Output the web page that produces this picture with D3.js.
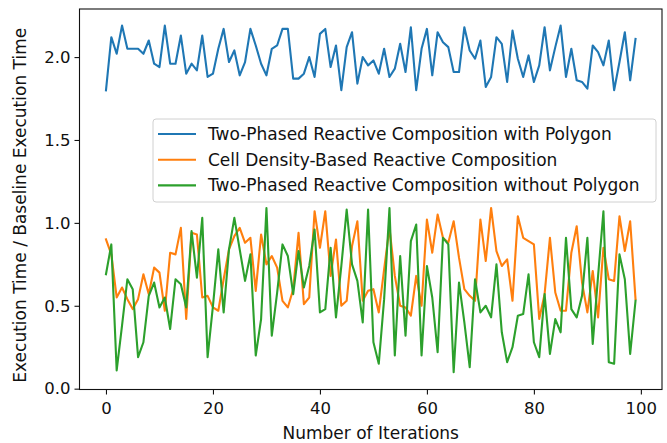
<!DOCTYPE html>
<html>
<head>
<meta charset="utf-8">
<script src="https://cdn.jsdelivr.net/npm/d3@7/dist/d3.min.js"></script>
<style>
  html, body { margin: 0; padding: 0; background: #fff; }
  svg { display: block; }
  text { font-family: "DejaVu Sans", sans-serif; fill: #111; }
</style>
</head>
<body>
<svg id="chart" width="667" height="443"></svg>
<script>
const seriesNames = [
  "Two-Phased Reactive Composition with Polygon",
  "Cell Density-Based Reactive Composition",
  "Two-Phased Reactive Composition without Polygon"
];
const seriesColors = ["#1f77b4", "#ff7f0e", "#2ca02c"];

const withPolygon = [
  1.80, 2.12, 2.02, 2.19, 2.05, 2.05, 2.05, 2.02, 2.10, 1.96,
  1.94, 2.19, 1.96, 1.96, 2.13, 1.90, 1.96, 1.92, 2.13, 1.88,
  1.90, 2.05, 2.17, 1.97, 2.04, 1.89, 1.97, 2.17, 2.07, 1.96,
  1.89, 2.05, 2.07, 2.17, 2.17, 1.87, 1.87, 1.90, 2.00, 1.88,
  2.14, 2.17, 1.94, 2.07, 1.80, 2.06, 2.15, 1.84, 2.00, 1.95,
  1.98, 1.90, 2.05, 1.88, 1.93, 2.08, 1.91, 2.18, 1.80, 2.05,
  2.17, 1.89, 2.15, 2.09, 2.06, 1.91, 1.91, 2.18, 2.04, 1.99,
  2.10, 1.82, 1.88, 2.12, 2.08, 1.85, 2.16, 1.99, 1.88, 2.01,
  1.85, 1.95, 2.18, 1.92, 2.06, 2.19, 1.88, 2.05, 1.86, 1.85,
  1.81, 2.07, 2.03, 1.95, 2.10, 1.80, 1.97, 2.15, 1.86, 2.11
];
const cellDensity = [
  0.90, 0.81, 0.55, 0.61, 0.54, 0.48, 0.54, 0.69, 0.57, 0.73,
  0.70, 0.47, 0.82, 0.81, 0.97, 0.42, 0.94, 0.93, 0.55, 0.56,
  0.49, 0.47, 0.66, 0.84, 0.92, 0.97, 0.88, 0.91, 0.59, 0.93,
  0.75, 0.80, 0.73, 0.53, 0.49, 0.60, 0.94, 0.51, 0.55, 1.07,
  0.85, 1.07, 0.68, 0.90, 0.50, 0.53, 0.86, 1.01, 0.53, 0.59,
  0.60, 0.46, 0.72, 0.97, 0.68, 0.50, 0.49, 0.44, 0.68, 0.50,
  1.02, 0.82, 1.05, 0.91, 0.88, 1.01, 0.79, 0.60, 0.56, 0.53,
  1.02, 0.77, 1.09, 0.83, 0.74, 0.78, 0.53, 1.04, 0.91, 0.89,
  0.87, 0.42, 0.57, 0.91, 0.58, 0.47, 0.47, 0.82, 0.98, 0.64,
  0.46, 0.71, 0.43, 0.85, 0.66, 0.65, 1.04, 0.83, 1.01, 0.54
];
const withoutPolygon = [
  0.69, 0.87, 0.11, 0.38, 0.66, 0.60, 0.19, 0.28, 0.56, 0.64,
  0.49, 0.55, 0.36, 0.66, 0.63, 0.49, 0.95, 0.67, 1.03, 0.19,
  0.50, 0.84, 0.46, 0.84, 1.03, 0.84, 0.65, 0.81, 0.20, 0.42,
  1.09, 0.32, 0.58, 0.87, 0.80, 0.57, 0.83, 0.61, 0.74, 0.96,
  0.46, 0.48, 0.85, 0.43, 0.74, 1.08, 0.75, 0.65, 0.40, 1.08,
  0.28, 0.15, 0.54, 1.09, 0.20, 0.80, 0.32, 0.89, 0.99, 0.20,
  0.74, 0.55, 0.22, 0.91, 0.87, 0.10, 0.64, 0.40, 0.13, 0.66,
  0.46, 0.50, 0.43, 0.75, 0.34, 0.16, 0.25, 0.44, 0.45, 0.69,
  0.28, 0.19, 0.57, 0.21, 0.42, 0.34, 0.91, 0.48, 0.43, 0.56,
  0.91, 0.27, 0.68, 1.07, 0.16, 0.15, 0.81, 0.66, 0.21, 0.53
];
const xTicks = [0, 20, 40, 60, 80, 100];
const yTicks = [0.0, 0.5, 1.0, 1.5, 2.0];
const xLabel = "Number of Iterations";
const yLabel = "Execution Time / Baseline Execution Time";

const series = [withPolygon, cellDensity, withoutPolygon];

const svg = d3.select("#chart");
const pLeft = 79.5, pRight = 662, pTop = 9, pBottom = 389.5;

const x = d3.scaleLinear().domain([-4.95, 103.95]).range([pLeft, pRight]);
const y = d3.scaleLinear().domain([-0.005, 2.29]).range([pBottom, pTop]);

svg.append("rect").attr("width", 667).attr("height", 443).attr("fill", "#fff");

const line = d3.line().x((d, i) => x(i)).y(d => y(d));

const plot = svg.append("g");
series.forEach((s, k) => {
  plot.append("path")
    .datum(s)
    .attr("fill", "none")
    .attr("stroke", seriesColors[k])
    .attr("stroke-width", 2.1)
    .attr("stroke-linejoin", "round")
    .attr("stroke-linecap", "square")
    .attr("d", line);
});

// Axes
const xAxis = d3.axisBottom(x).tickValues(xTicks).tickSize(5).tickPadding(8)
  .tickFormat(d3.format("d"));
const yAxis = d3.axisLeft(y).tickValues(yTicks).tickSize(5).tickPadding(4)
  .tickFormat(d3.format(".1f"));

const gx = svg.append("g").attr("transform", `translate(0,${pBottom})`).call(xAxis);
const gy = svg.append("g").attr("transform", `translate(${pLeft},0)`).call(yAxis);
[gx, gy].forEach(g => {
  g.select(".domain").remove();
  g.selectAll(".tick line").attr("stroke", "#111").attr("stroke-width", 1.1);
  g.selectAll(".tick text").style("font-family", "DejaVu Sans, sans-serif")
    .style("font-size", "16.5px").attr("fill", "#111");
});

// Frame
svg.append("rect")
  .attr("x", pLeft).attr("y", pTop)
  .attr("width", pRight - pLeft).attr("height", pBottom - pTop)
  .attr("fill", "none").attr("stroke", "#111").attr("stroke-width", 1.1);

// Axis labels
svg.append("text")
  .attr("x", (pLeft + pRight) / 2).attr("y", 439)
  .attr("text-anchor", "middle")
  .style("font-size", "17px")
  .text(xLabel);
svg.append("text")
  .attr("transform", `translate(26,${(pTop + pBottom) / 2 + 6}) rotate(-90)`)
  .attr("text-anchor", "middle")
  .style("font-size", "17px")
  .text(yLabel);

// Legend
const lg = svg.append("g");
lg.append("rect")
  .attr("x", 153).attr("y", 119).attr("width", 503).attr("height", 83)
  .attr("rx", 3)
  .attr("fill", "#fff").attr("fill-opacity", 0.85)
  .attr("stroke", "#d0d0d0").attr("stroke-width", 1);
seriesNames.forEach((name, k) => {
  const yy = 134 + k * 25.7;
  lg.append("line")
    .attr("x1", 158).attr("x2", 196).attr("y1", yy).attr("y2", yy)
    .attr("stroke", seriesColors[k]).attr("stroke-width", 2.1);
  lg.append("text")
    .attr("x", 208).attr("y", yy + 6)
    .style("font-size", "17px")
    .text(name);
});
</script>
</body>
</html>
